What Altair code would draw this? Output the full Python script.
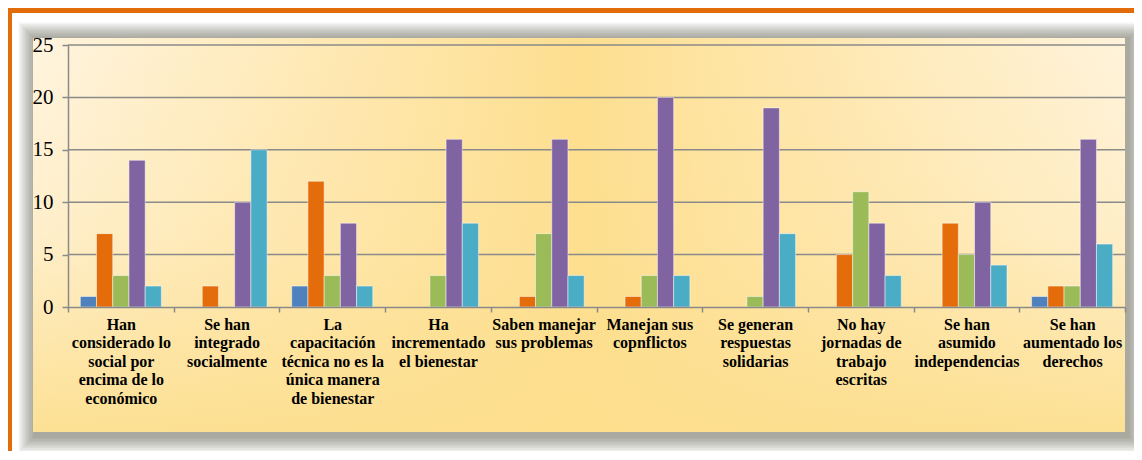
import altair as alt
import pandas as pd

# ---------------- data ----------------
category_lines = [
    ["Han", "considerado lo", "social por", "encima de lo", "económico"],
    ["Se han", "integrado", "socialmente"],
    ["La", "capacitación", "técnica no es la", "única manera", "de bienestar"],
    ["Ha", "incrementado", "el bienestar"],
    ["Saben manejar", "sus problemas"],
    ["Manejan sus", "copnflictos"],
    ["Se generan", "respuestas", "solidarias"],
    ["No hay", "jornadas de", "trabajo", "escritas"],
    ["Se han", "asumido", "independencias"],
    ["Se han", "aumentado los", "derechos"],
]
series_names = ["Serie 1", "Serie 2", "Serie 3", "Serie 4", "Serie 5"]
serie_1 = [1, 0, 2, 0, 0, 0, 0, 0, 0, 1]
serie_2 = [7, 2, 12, 0, 1, 1, 0, 5, 8, 2]
serie_3 = [3, 0, 3, 3, 7, 3, 1, 11, 5, 2]
serie_4 = [14, 10, 8, 16, 16, 20, 19, 8, 10, 16]
serie_5 = [2, 15, 2, 8, 3, 3, 7, 3, 4, 6]
series_colors = ["#4F81BD", "#E46C0A", "#9BBB59", "#8064A2", "#4BACC6"]
y_ticks = [0, 5, 10, 15, 20, 25]

categories = ["|".join(l) for l in category_lines]
rows = []
for s, vals in zip(series_names, [serie_1, serie_2, serie_3, serie_4, serie_5]):
    for c, v in zip(categories, vals):
        rows.append({"categoria": c, "serie": s, "valor": v})
df = pd.DataFrame(rows)
grid_df = pd.DataFrame({"valor": y_ticks[1:]})

W, H = 1057, 262
dummy = pd.DataFrame({"k": [0]})


def box(x, x2, y, y2, **kw):
    return alt.Chart(dummy).mark_rect(**kw).encode(
        x=alt.value(x), x2=alt.value(x2), y=alt.value(y), y2=alt.value(y2)
    )


FONT = "Liberation Serif"

y_axis = alt.Axis(
    values=y_ticks, title=None, grid=False, domainColor="#8A8A8A", domainWidth=1.5,
    tickColor="#8A8A8A", tickSize=6, tickWidth=1.5, labelFont=FONT, labelFontSize=21,
    labelColor="#000000", labelPadding=9, zindex=1,
)
y_scale = alt.Scale(domain=[0, 25], nice=False)

x_axis = alt.Axis(
    title=None, labelAngle=0, labelExpr="split(datum.label, '|')", labelFont=FONT,
    labelFontWeight="bold", labelFontSize=16, labelLineHeight=18.5, labelColor="#000000",
    labelBaseline="top", labelPadding=4, labelLimit=0, tickBand="extent", tickSize=5,
    tickColor="#8A8A8A", tickWidth=1.5, domainColor="#8A8A8A", domainWidth=1.5, zindex=1,
)

layers = []
# orange frame
layers.append(box(-61, 1080, -37, -32, color="#E36C0A"))
layers.append(box(-61, -56, -37, 420, color="#E36C0A"))
# shadow
px0, px1, py0, py1 = -35, 1057, -7, 387
for k in range(1, 12):
    layers.append(box(px0 + 2 - k * 1.5, px1 + 3 + k * 1.5, py0 + 1 - k * 1.5, py1 + 4 + k * 1.5,
                      color="#55524a", opacity=0.06))
# panel
layers.append(box(px0, px1, py0, py1, fill=alt.LinearGradient(
    gradient="linear", x1=0, x2=1, y1=0, y2=0,
    stops=[alt.GradientStop(color="#FFF4DF", offset=0),
           alt.GradientStop(color="#FEDF90", offset=0.5),
           alt.GradientStop(color="#FFF3DB", offset=1)])))
layers.append(box(px0, px1, py0, py1, fill=alt.LinearGradient(
    gradient="linear", x1=0, x2=0, y1=0, y2=1,
    stops=[alt.GradientStop(color="rgba(253,223,142,0)", offset=0),
           alt.GradientStop(color="rgba(253,223,142,0.25)", offset=0.5),
           alt.GradientStop(color="rgba(252,222,140,0.9)", offset=1)])))

grid = alt.Chart(grid_df).mark_rule(color="#8A8A8A", strokeWidth=1.5).encode(
    y=alt.Y("valor:Q", scale=y_scale, axis=y_axis)
)

bars = alt.Chart(df).transform_filter("datum.valor > 0").mark_bar(
    stroke="white", strokeWidth=0.8, strokeOpacity=0.6
).encode(
    x=alt.X("categoria:N", sort=categories, scale=alt.Scale(domain=categories, paddingInner=0, paddingOuter=0), axis=x_axis),
    xOffset=alt.XOffset("serie:N", sort=series_names,
                        scale=alt.Scale(domain=series_names, paddingOuter=0.76, paddingInner=0)),
    y=alt.Y("valor:Q", scale=y_scale, axis=y_axis),
    color=alt.Color("serie:N", scale=alt.Scale(domain=series_names, range=series_colors), legend=None),
)

chart = alt.layer(*layers, grid, bars).properties(
    width=W, height=H,
    autosize=alt.AutoSizeParams(type="none"),
    padding={"left": 60, "top": 37, "right": 9, "bottom": 144},
    background="white",
).configure_view(stroke=None)

chart.save("out.html", embed_options={"renderer": "svg", "actions": False})
